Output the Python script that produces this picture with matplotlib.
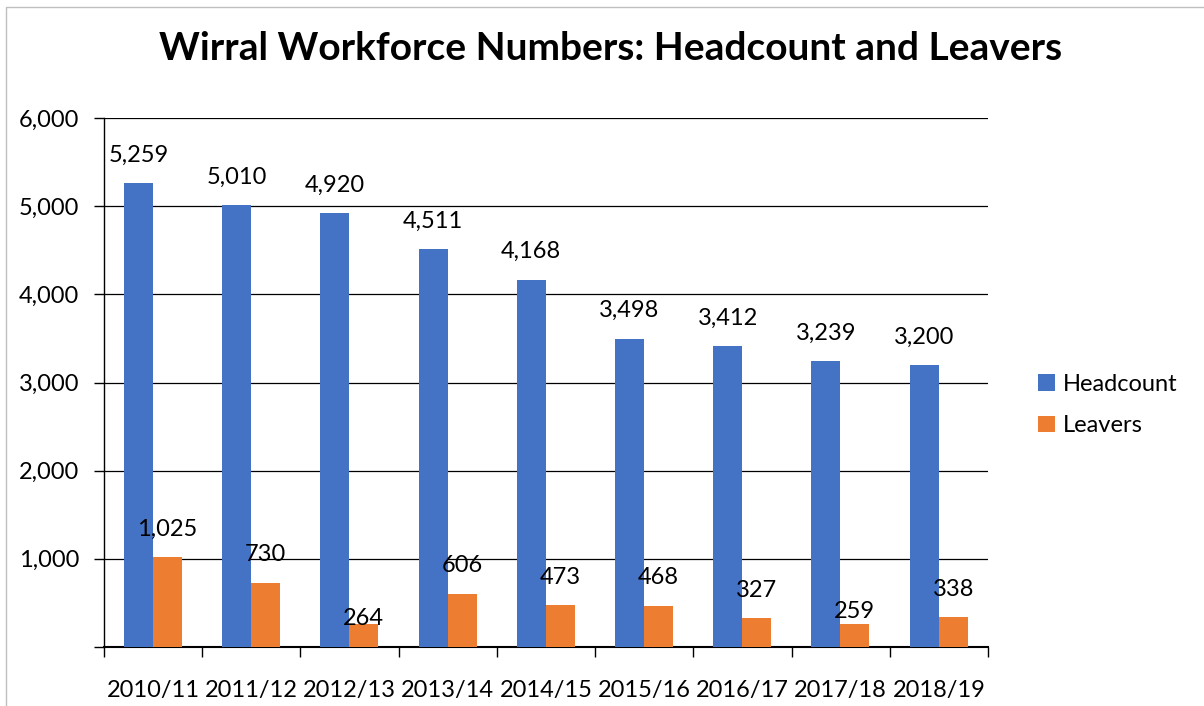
import numpy as np
import matplotlib.pyplot as plt
from matplotlib.patches import Rectangle

years = ["2010/11", "2011/12", "2012/13", "2013/14", "2014/15",
         "2015/16", "2016/17", "2017/18", "2018/19"]
headcount = [5259, 5010, 4920, 4511, 4168, 3498, 3412, 3239, 3200]
leavers = [1025, 730, 264, 606, 473, 468, 327, 259, 338]
# vertical offset (points) of the leavers labels above their bars
leaver_lbl_off = [20, 20, 4, 20, 20, 20, 20, 9, 20]

blue = "#4472C4"
orange = "#ED7D31"
font = ["Lato", "DejaVu Sans"]
plt.rcParams['font.family'] = font
fs = 17

W, H = 1204, 706
fig = plt.figure(figsize=(W/100, H/100), dpi=100)
ax = fig.add_axes([104/W, 1 - 647/H, (988-104)/W, (647-118)/H])

x = np.arange(len(years))
bw = 0.295
b1 = ax.bar(x - 0.15, headcount, bw, color=blue, label="Headcount", zorder=3)
b2 = ax.bar(x + 0.145, leavers, bw, color=orange, label="Leavers", zorder=3)

for xi, v in zip(x, headcount):
    ax.annotate(f"{v:,}", (xi - 0.15, v), xytext=(0, 20), textcoords="offset points",
                ha="center", va="center", fontsize=fs, zorder=5)
for xi, v, o in zip(x, leavers, leaver_lbl_off):
    ax.annotate(f"{v:,}", (xi + 0.145, v), xytext=(0, o), textcoords="offset points",
                ha="center", va="center", fontsize=fs, zorder=5)

ax.set_xlim(-0.5, len(years) - 0.5)
ax.set_ylim(0, 6000)
ax.set_yticks(np.arange(0, 6001, 1000))
ax.set_yticklabels([f"{v:,}" if v else "" for v in range(0, 6001, 1000)])
ax.yaxis.grid(True, color="black", linewidth=0.9, zorder=0)
ax.set_xticks(x)
ax.set_xticklabels(years)
ax.set_xticks(np.arange(-0.5, len(years)), minor=True)
ax.tick_params(axis="x", which="major", length=0, pad=24, labelsize=fs)
ax.tick_params(axis="x", which="minor", length=7, width=1, direction="out")
ax.tick_params(axis="y", length=7, width=1, labelsize=fs, pad=11)
for s in ["top", "right"]:
    ax.spines[s].set_visible(False)
ax.spines["left"].set_linewidth(1)
ax.spines["bottom"].set_linewidth(1.5)

fig.text(0.507, 1 - 48/H, "Wirral Workforce Numbers: Headcount and Leavers",
         ha="center", va="center", fontsize=28, fontweight="bold")

fig.legend(handles=[b1, b2], loc="center left", bbox_to_anchor=(1017/W, 1 - 405/H),
           frameon=False, fontsize=fs, handlelength=0.7, handleheight=0.7,
           handletextpad=0.35, labelspacing=0.85)

fig.patches.append(Rectangle((6/W, -0.1), 1.2, 1 - 7/H + 0.1, transform=fig.transFigure,
                             fill=False, edgecolor="#bfbfbf", linewidth=1))

fig.savefig("out.png", dpi=100)
